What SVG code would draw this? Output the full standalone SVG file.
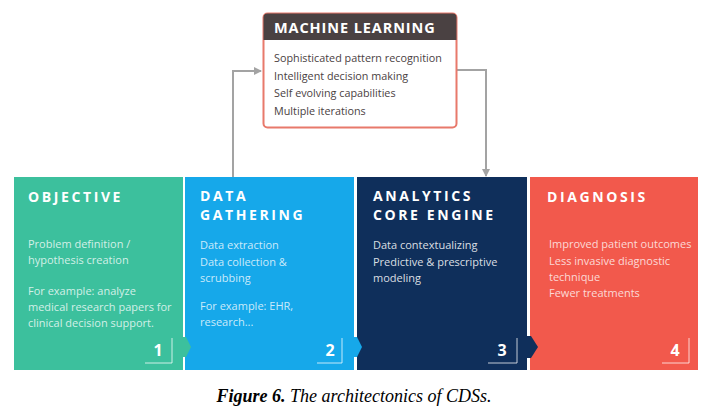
<svg xmlns="http://www.w3.org/2000/svg" width="708" height="413" viewBox="0 0 708 413">
<defs>
<style>
.title{font-family:"Open Sans","DejaVu Sans",sans-serif;font-weight:700;font-size:14px;fill:#ffffff;letter-spacing:2.6px}
.body{font-family:"Open Sans","DejaVu Sans",sans-serif;font-size:11px;fill:#ffffff;fill-opacity:0.78}
.num{font-family:"Open Sans","DejaVu Sans",sans-serif;font-weight:700;font-size:16px;fill:#ffffff;text-anchor:middle}
.br{fill:none;stroke:#ffffff;stroke-opacity:0.75;stroke-width:1}
.ml{font-family:"Open Sans","DejaVu Sans",sans-serif;font-size:10.8px;fill:#4a4142}
.conn{fill:none;stroke:#a3a3a3;stroke-width:2}
</style>
<marker id="ah" markerWidth="8" markerHeight="8" refX="7" refY="4" orient="auto" markerUnits="userSpaceOnUse">
<path d="M0,0 L8,4 L0,8 z" fill="#a3a3a3"/>
</marker>
</defs>
<rect width="708" height="413" fill="#ffffff"/>
<g id="connectors">
<path class="conn" d="M233,177 V71 H261" marker-end="url(#ah)"/>
<path class="conn" d="M457,70 H486 V176" marker-end="url(#ah)"/>
</g>
<g id="ml">
<rect x="263.5" y="13.5" width="193" height="114" rx="4" fill="#ffffff" stroke="#e8796b" stroke-width="2"/>
<path d="M263.5,40 V17.5 a4,4 0 0 1 4,-4 H452.5 a4,4 0 0 1 4,4 V40 z" fill="#4a4142"/>
<text x="274" y="33" style="font-family:'Open Sans','DejaVu Sans',sans-serif;font-weight:700;font-size:14.5px;fill:#ffffff;letter-spacing:0.9px">MACHINE LEARNING</text>
<text class="ml" x="274" y="62">Sophisticated pattern recognition</text>
<text class="ml" x="274" y="80">Intelligent decision making</text>
<text class="ml" x="274" y="97">Self evolving capabilities</text>
<text class="ml" x="274" y="115">Multiple iterations</text>
</g>
<g id="diagnosis">
<rect x="530" y="177" width="168" height="193" fill="#f2594c"/>
<text class="title" x="547" y="202">DIAGNOSIS</text>
<text class="body" x="549" y="248">Improved patient outcomes</text>
<text class="body" x="549" y="265">Less invasive diagnostic</text>
<text class="body" x="549" y="281">technique</text>
<text class="body" x="549" y="297">Fewer treatments</text>
<text class="num" x="675" y="356">4</text>
<path class="br" d="M689,338 V363 H662"/>
</g>
<g id="analytics">
<rect x="357" y="177" width="170" height="193" fill="#0f2f5b"/>
<polygon points="527,336 531,336 538,347 531,358 527,358" fill="#0f2f5b"/>
<text class="title" x="373" y="201">ANALYTICS</text>
<text class="title" x="373" y="220">CORE ENGINE</text>
<text class="body" x="373" y="249" style="fill-opacity:0.85">Data contextualizing</text>
<text class="body" x="373" y="266" style="fill-opacity:0.85">Predictive &amp; prescriptive</text>
<text class="body" x="373" y="282" style="fill-opacity:0.85">modeling</text>
<text class="num" x="502" y="356">3</text>
<path class="br" d="M517,338 V363 H488"/>
</g>
<g id="gathering">
<rect x="185" y="177" width="169" height="193" fill="#16a8ea"/>
<polygon points="354,337 357,337 362,347 357,357 354,357" fill="#16a8ea"/>
<text class="title" x="200" y="201">DATA</text>
<text class="title" x="200" y="220">GATHERING</text>
<text class="body" x="200" y="249">Data extraction</text>
<text class="body" x="200" y="266">Data collection &amp;</text>
<text class="body" x="200" y="282">scrubbing</text>
<text class="body" x="200" y="310">For example: EHR,</text>
<text class="body" x="200" y="326">research...</text>
<text class="num" x="330" y="356">2</text>
<path class="br" d="M342,338 V363 H317"/>
</g>
<g id="objective">
<rect x="14" y="177" width="169" height="193" fill="#3cc09d"/>
<polygon points="183,337 186,337 191,347 186,357 183,357" fill="#3cc09d"/>
<text class="title" x="28" y="202">OBJECTIVE</text>
<text class="body" x="28" y="248">Problem definition /</text>
<text class="body" x="28" y="264">hypothesis creation</text>
<text class="body" x="28" y="295">For example: analyze</text>
<text class="body" x="28" y="311">medical research papers for</text>
<text class="body" x="28" y="327">clinical decision support.</text>
<text class="num" x="158" y="356">1</text>
<path class="br" d="M172,338 V363 H145"/>
</g>
<text x="354" y="402" text-anchor="middle" style="font-family:'Liberation Serif','Times New Roman',serif;font-style:italic;font-size:18px;fill:#000000"><tspan font-weight="700">Figure 6.</tspan> The architectonics of CDSs.</text>
</svg>
